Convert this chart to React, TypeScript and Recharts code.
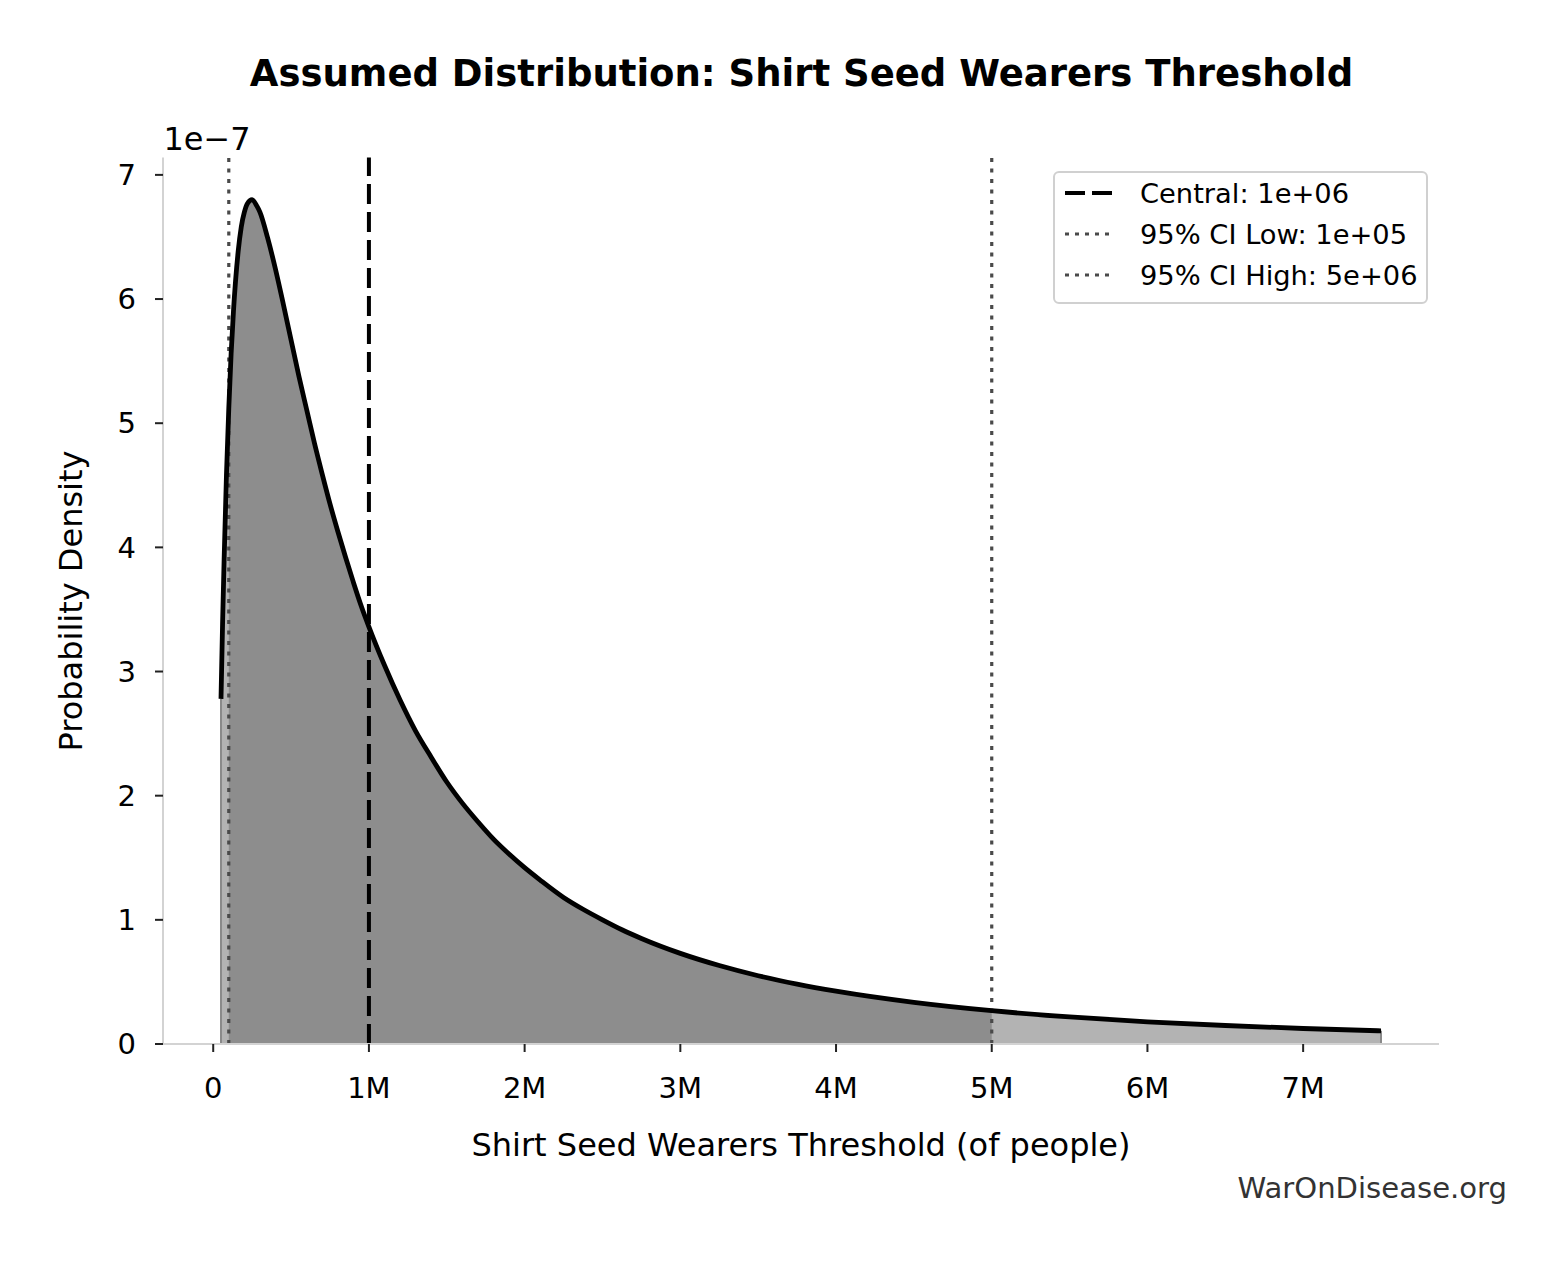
import React from 'react';
import { ComposedChart, Area, Line, XAxis, YAxis, ReferenceLine } from 'recharts';

// Threshold values (people) and density, in units of 1e-7
const thresholdValues = [
  50000, 60000, 70000, 85000, 100000, 115000, 130000, 160000, 180000, 200000,
  220000, 250000, 280000, 300000, 350000, 400000, 450000, 500000, 550000, 600000,
  650000, 700000, 750000, 800000, 850000, 900000, 950000, 1000000, 1100000, 1200000,
  1300000, 1400000, 1500000, 1600000, 1700000, 1800000, 1900000, 2000000, 2100000, 2250000,
  2375000, 2500000, 2625000, 2750000, 3000000, 3250000, 3500000, 3750000, 4000000, 4500000,
  5000000, 5500000, 6000000, 6500000, 7000000, 7500000,
];
const densityValues = [
  2.78, 3.38, 3.9, 4.58, 5.12, 5.56, 5.9, 6.38, 6.58, 6.7,
  6.77, 6.8, 6.75, 6.7, 6.49, 6.24, 5.96, 5.67, 5.38, 5.11,
  4.84, 4.59, 4.35, 4.13, 3.92, 3.72, 3.53, 3.36, 3.05, 2.77,
  2.52, 2.31, 2.11, 1.94, 1.79, 1.65, 1.53, 1.42, 1.32, 1.18,
  1.085, 1.0, 0.92, 0.85, 0.73, 0.632, 0.55, 0.482, 0.425, 0.335,
  0.268, 0.218, 0.179, 0.149, 0.125, 0.106,
];

const centralValue = 1000000;
const ciLow = 100000;
const ciHigh = 5000000;

const xTicks = [0, 1000000, 2000000, 3000000, 4000000, 5000000, 6000000, 7000000];
const yTicks = [0, 1, 2, 3, 4, 5, 6, 7];

const legendItems = [
  { label: 'Central: 1e+06', kind: 'dashed' },
  { label: '95% CI Low: 1e+05', kind: 'dotted' },
  { label: '95% CI High: 5e+06', kind: 'dotted' },
];

const chartData = thresholdValues.map((x, i) => ({
  x,
  full: densityValues[i],
  ci: x >= ciLow && x <= ciHigh ? densityValues[i] : null,
}));

const first = chartData[0];
const last = chartData[chartData.length - 1];

const FONT = 'DejaVu Sans';
const W = 1563;
const H = 1266;

const fmtX = (v: number) => (v === 0 ? '0' : `${v / 1000000}M`);

export default function App() {
  return (
    <div style={{ position: 'absolute', left: 0, top: 0, width: W, height: H, background: '#fff', fontFamily: FONT }}>
      <ComposedChart
        width={W}
        height={H}
        data={chartData}
        margin={{ top: 157.5, right: 124, bottom: 162, left: 103 }}
      >
        <XAxis
          type="number"
          dataKey="x"
          domain={[-322500, 7872500]}
          ticks={xTicks}
          tickFormatter={fmtX}
          height={60}
          axisLine={{ stroke: '#d3d3d3', strokeWidth: 2 }}
          tickLine={{ stroke: '#222', strokeWidth: 2 }}
          tickSize={8}
          tickMargin={25}
          tick={{ fill: '#000', fontSize: 29, fontFamily: FONT }}
        />
        <YAxis
          type="number"
          domain={[0, 7.14]}
          ticks={yTicks}
          width={60}
          axisLine={{ stroke: '#d3d3d3', strokeWidth: 2 }}
          tickLine={{ stroke: '#222', strokeWidth: 2 }}
          tickSize={8}
          tickMargin={19}
          tick={{ fill: '#000', fontSize: 29, fontFamily: FONT }}
        />
        <Area
          type="monotone"
          dataKey="full"
          fill="#b3b3b3"
          fillOpacity={1}
          stroke="none"
          isAnimationActive={false}
        />
        <Area
          type="monotone"
          dataKey="ci"
          fill="#8d8d8d"
          fillOpacity={1}
          stroke="none"
          connectNulls={false}
          isAnimationActive={false}
        />
        <ReferenceLine
          segment={[{ x: first.x, y: 0 }, { x: first.x, y: first.full }]}
          stroke="#8a8a8a"
          strokeWidth={2}
        />
        <ReferenceLine
          segment={[{ x: last.x, y: 0 }, { x: last.x, y: last.full }]}
          stroke="#8a8a8a"
          strokeWidth={2}
        />
        <ReferenceLine x={ciLow} stroke="#4a4a4a" strokeWidth={3.2} strokeDasharray="4 6.5" />
        <ReferenceLine x={ciHigh} stroke="#4a4a4a" strokeWidth={3.2} strokeDasharray="4 6.5" />
        <ReferenceLine x={centralValue} stroke="#000" strokeWidth={4} strokeDasharray="20 8" />
        <Line
          type="monotone"
          dataKey="full"
          stroke="#000"
          strokeWidth={4.8}
          dot={false}
          activeDot={false}
          isAnimationActive={false}
        />
      </ComposedChart>

      <svg width={W} height={H} style={{ position: 'absolute', left: 0, top: 0, pointerEvents: 'none' }}>
        <text x={801.5} y={86} textAnchor="middle" fontSize={37} fontWeight="bold" fontFamily={FONT} fill="#000">
          Assumed Distribution: Shirt Seed Wearers Threshold
        </text>
        <text x={163.5} y={150} fontSize={32} fontFamily={FONT} fill="#000">
          1e−7
        </text>
        <text
          x={82}
          y={601}
          textAnchor="middle"
          fontSize={32}
          fontFamily={FONT}
          fill="#000"
          transform="rotate(-90, 82, 601)"
        >
          Probability Density
        </text>
        <text x={801} y={1156} textAnchor="middle" fontSize={32} fontFamily={FONT} fill="#000">
          Shirt Seed Wearers Threshold (of people)
        </text>
        <text x={1507} y={1198} textAnchor="end" fontSize={29.1} fontFamily={FONT} fill="#333">
          WarOnDisease.org
        </text>

        {/* legend */}
        <rect x={1054} y={172} width={373} height={131} rx={5} fill="#fff" stroke="#d0d0d0" strokeWidth={2} />
        {legendItems.map((item, i) => {
          const cy = 193 + i * 41;
          return (
            <g key={item.label}>
              <line
                x1={1065}
                x2={1112}
                y1={cy}
                y2={cy}
                stroke={item.kind === 'dashed' ? '#000' : '#4a4a4a'}
                strokeWidth={item.kind === 'dashed' ? 4 : 3}
                strokeDasharray={item.kind === 'dashed' ? '20 7' : '4 6'}
              />
              <text x={1140} y={cy + 10} fontSize={27.3} fontFamily={FONT} fill="#000">
                {item.label}
              </text>
            </g>
          );
        })}
      </svg>
    </div>
  );
}
